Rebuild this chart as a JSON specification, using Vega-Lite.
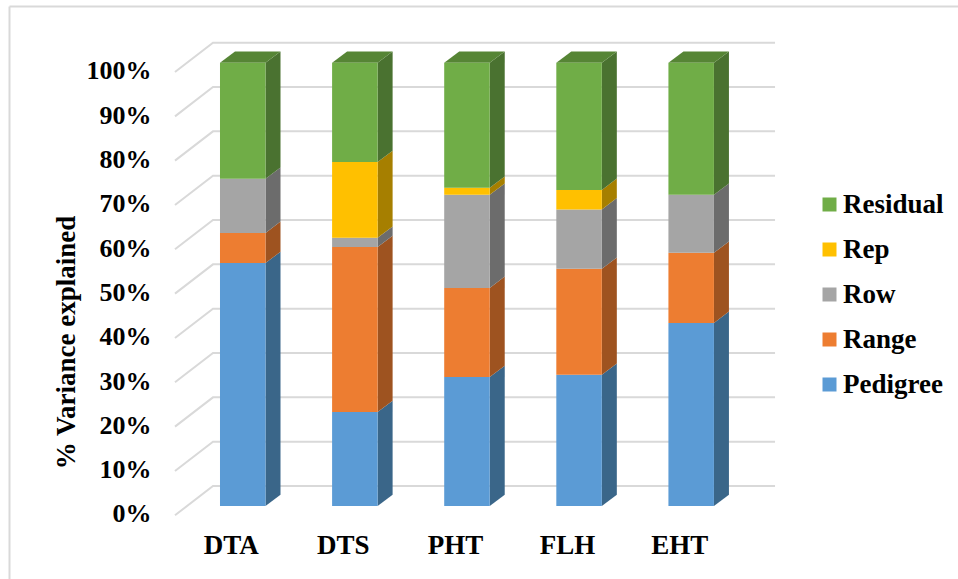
{
  "$schema": "https://vega.github.io/schema/vega-lite/v6.json",
  "width": 949,
  "height": 573,
  "autosize": "none",
  "padding": {"left": 9, "top": 6, "right": 0, "bottom": 0},
  "background": "white",
  "config": {
    "view": {"stroke": null},
    "font": "Liberation Serif"
  },
  "datasets": {
    "shares": [
      {"trait": "DTA", "component": "Pedigree", "share": 54.8},
      {"trait": "DTA", "component": "Range", "share": 6.8},
      {"trait": "DTA", "component": "Row", "share": 12.2},
      {"trait": "DTA", "component": "Rep", "share": 0},
      {"trait": "DTA", "component": "Residual", "share": 26.2},
      {"trait": "DTS", "component": "Pedigree", "share": 21.2},
      {"trait": "DTS", "component": "Range", "share": 37.2},
      {"trait": "DTS", "component": "Row", "share": 2.1},
      {"trait": "DTS", "component": "Rep", "share": 17.1},
      {"trait": "DTS", "component": "Residual", "share": 22.4},
      {"trait": "PHT", "component": "Pedigree", "share": 29.1},
      {"trait": "PHT", "component": "Range", "share": 20.1},
      {"trait": "PHT", "component": "Row", "share": 21.0},
      {"trait": "PHT", "component": "Rep", "share": 1.6},
      {"trait": "PHT", "component": "Residual", "share": 28.2},
      {"trait": "FLH", "component": "Pedigree", "share": 29.6},
      {"trait": "FLH", "component": "Range", "share": 23.9},
      {"trait": "FLH", "component": "Row", "share": 13.4},
      {"trait": "FLH", "component": "Rep", "share": 4.4},
      {"trait": "FLH", "component": "Residual", "share": 28.7},
      {"trait": "EHT", "component": "Pedigree", "share": 41.3},
      {"trait": "EHT", "component": "Range", "share": 15.8},
      {"trait": "EHT", "component": "Row", "share": 13.1},
      {"trait": "EHT", "component": "Rep", "share": 0},
      {"trait": "EHT", "component": "Residual", "share": 29.8}
    ],
    "levels": [
      {"level": 0}, {"level": 10}, {"level": 20}, {"level": 30}, {"level": 40}, {"level": 50},
      {"level": 60}, {"level": 70}, {"level": 80}, {"level": 90}, {"level": 100}
    ]
  },
  "resolve": {
    "scale": {"color": "independent"},
    "legend": {"color": "independent"}
  },
  "encoding": {
    "x": {
      "field": "px",
      "type": "quantitative",
      "scale": {"domain": [-2.085, 6.38], "nice": false, "zero": false},
      "axis": {
        "orient": "top",
        "values": [0, 1, 2, 3, 4],
        "labelExpr": "['DTA','DTS','PHT','FLH','EHT'][datum.value]",
        "title": null,
        "grid": false,
        "ticks": false,
        "tickSize": 0,
        "domain": true,
        "domainColor": "#d9d9d9",
        "domainWidth": 2,
        "labelFont": "Liberation Serif",
        "labelFontWeight": "bold",
        "labelFontSize": 27,
        "labelColor": "#000000",
        "labelBaseline": "middle",
        "labelPadding": -539,
        "labelOffset": -12,
        "labelOverlap": false,
        "labelFlush": false
      }
    },
    "y": {
      "field": "py",
      "type": "quantitative",
      "scale": {"domain": [-16.47, 112.79], "nice": false, "zero": false},
      "axis": {
        "orient": "left",
        "values": [0, 10, 20, 30, 40, 50, 60, 70, 80, 90, 100],
        "labelExpr": "datum.value + '%'",
        "title": "% Variance explained",
        "titleFont": "Liberation Serif",
        "titleFontWeight": "bold",
        "titleFontSize": 27,
        "titleColor": "#000000",
        "titleAngle": -90,
        "titleAlign": "center",
        "titleBaseline": "middle",
        "titleX": 57,
        "titleY": 336,
        "grid": false,
        "ticks": false,
        "tickSize": 0,
        "domain": true,
        "domainColor": "#d9d9d9",
        "domainWidth": 2,
        "labelFont": "Liberation Serif",
        "labelFontWeight": "bold",
        "labelFontSize": 26,
        "labelColor": "#000000",
        "labelAlign": "right",
        "labelBaseline": "middle",
        "labelPadding": -142,
        "labelOffset": 8,
        "labelOverlap": false,
        "labelFlush": false
      }
    }
  },
  "layer": [
    {
      "description": "Wall and floor gridlines: slanted floor edge, then the back wall",
      "data": {"name": "levels"},
      "transform": [
        {"calculate": "[0, 1, 2]", "as": "vertex"},
        {"flatten": ["vertex"]},
        {"calculate": "[-0.6044, -0.2654, 4.748][datum.vertex]", "as": "px"},
        {"calculate": "datum.level + [-2.1, 4.51, 4.51][datum.vertex]", "as": "py"}
      ],
      "mark": {"type": "line", "stroke": "#d9d9d9", "strokeWidth": 2},
      "encoding": {"detail": {"field": "level"}}
    },
    {
      "description": "Right-hand side faces of the 3D columns",
      "data": {"name": "shares"},
      "transform": [
        {"filter": "datum.share > 0"},
        {"calculate": "indexof(['DTA','DTS','PHT','FLH','EHT'], datum.trait)", "as": "slot"},
        {"calculate": "indexof(['Pedigree','Range','Row','Rep','Residual'], datum.component)", "as": "rank"},
        {"stack": "share", "groupby": ["trait"], "sort": [{"field": "rank", "order": "ascending"}], "as": ["low", "high"]},
        {"calculate": "[0, 1]", "as": "depth"},
        {"flatten": ["depth"]},
        {"calculate": "datum.slot + 0.203 + datum.depth * 0.1338", "as": "px"},
        {"calculate": "datum.low + datum.depth * 2.55", "as": "py"},
        {"calculate": "datum.high + datum.depth * 2.55", "as": "py2"},
        {"calculate": "datum.trait + '-' + datum.component", "as": "face"}
      ],
      "mark": {"type": "area", "orient": "vertical", "strokeWidth": 0},
      "encoding": {
        "y2": {"field": "py2"},
        "detail": {"field": "face"},
        "color": {
          "field": "component",
          "type": "nominal",
          "legend": null,
          "scale": {
            "domain": ["Residual", "Rep", "Row", "Range", "Pedigree"],
            "range": ["#4a7230", "#a67f00", "#6c6c6c", "#9e5320", "#3a6689"]
          }
        }
      }
    },
    {
      "description": "Top faces of the columns",
      "data": {"name": "shares"},
      "transform": [
        {"filter": "datum.component === 'Residual'"},
        {"calculate": "indexof(['DTA','DTS','PHT','FLH','EHT'], datum.trait)", "as": "slot"},
        {"calculate": "[0, 1, 2, 3]", "as": "vertex"},
        {"flatten": ["vertex"]},
        {"calculate": "datum.slot - 0.203 + [0, 0.1338, 0.406, 0.5398][datum.vertex]", "as": "px"},
        {"calculate": "100 + [0, 0, 0, 2.55][datum.vertex]", "as": "py"},
        {"calculate": "100 + [0, 2.55, 2.55, 2.55][datum.vertex]", "as": "py2"}
      ],
      "mark": {"type": "area", "orient": "vertical", "fill": "#568535", "strokeWidth": 0},
      "encoding": {
        "y2": {"field": "py2"},
        "detail": {"field": "trait"}
      }
    },
    {
      "description": "Front faces of the stacked columns",
      "data": {"name": "shares"},
      "transform": [
        {"filter": "datum.share > 0"},
        {"calculate": "indexof(['DTA','DTS','PHT','FLH','EHT'], datum.trait)", "as": "slot"},
        {"calculate": "indexof(['Pedigree','Range','Row','Rep','Residual'], datum.component)", "as": "rank"},
        {"stack": "share", "groupby": ["trait"], "sort": [{"field": "rank", "order": "ascending"}], "as": ["py", "py2"]},
        {"calculate": "datum.slot - 0.203", "as": "px"},
        {"calculate": "datum.slot + 0.203", "as": "px2"}
      ],
      "mark": {"type": "rect"},
      "encoding": {
        "x2": {"field": "px2"},
        "y2": {"field": "py2"},
        "color": {
          "field": "component",
          "type": "nominal",
          "scale": {
            "domain": ["Residual", "Rep", "Row", "Range", "Pedigree"],
            "range": ["#70ad47", "#ffc000", "#a5a5a5", "#ed7d31", "#5b9bd5"]
          },
          "legend": {
            "orient": "none",
            "legendX": 807,
            "legendY": 185,
            "title": null,
            "padding": 0,
            "symbolType": "square",
            "symbolSize": 196,
            "symbolStrokeWidth": 0,
            "labelFont": "Liberation Serif",
            "labelFontWeight": "bold",
            "labelFontSize": 27,
            "labelColor": "#000000",
            "labelOffset": 0,
            "rowPadding": 17
          }
        }
      }
    }
  ]
}
